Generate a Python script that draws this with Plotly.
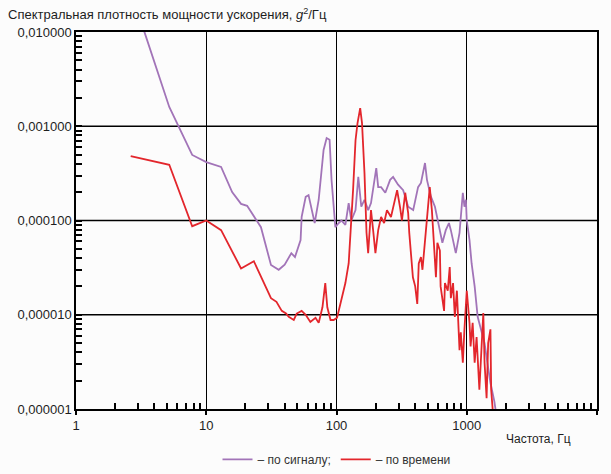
import plotly.graph_objects as go

# ---- data ----
freq_signal = [3.0, 3.36, 5.2, 7.8, 10, 13, 15.8, 18.5, 20.6, 26.3, 31.4, 36, 40, 45, 48, 53, 54, 58, 61,
               64.5, 68, 73, 79.6, 84, 88.5, 91.6, 95, 98, 104, 109, 117, 124, 130, 140, 147, 155, 164,
               175, 184, 202, 209, 220, 237, 258, 272, 297, 325, 355, 388, 423, 445, 478, 495, 530, 570,
               622, 650, 690, 730, 755, 824, 880, 933, 960, 985, 1000, 1050, 1090, 1150, 1213, 1290,
               1370, 1440, 1520, 1630, 1700]
psd_signal = [0.014, 0.0099, 0.0016, 0.000496, 0.000417, 0.00037, 0.0002, 0.00015, 0.000143, 8.5e-5,
              3.37e-5, 3.0e-5, 3.4e-5, 4.5e-5, 4.1e-5, 6.2e-5, 1.09e-4, 1.78e-4, 1.86e-4, 1.29e-4, 9.4e-5,
              1.66e-4, 5.6e-4, 7.5e-4, 7.2e-4, 2.7e-4, 1.29e-4, 8.5e-5, 9.4e-5, 1.0e-4, 9e-5, 1.53e-4,
              1e-4, 1.29e-4, 2.9e-4, 1.4e-4, 1.66e-4, 1.29e-4, 1.53e-4, 3.6e-4, 2.26e-4, 2.26e-4,
              1.97e-4, 2.7e-4, 2.9e-4, 2.4e-4, 2.1e-4, 1.4e-4, 1.29e-4, 2.26e-4, 2.5e-4, 4.07e-4,
              2.7e-4, 1.8e-4, 1.4e-4, 7.9e-5, 5.8e-5, 7.9e-5, 9.4e-5, 7.9e-5, 4.5e-5, 7.4e-5, 1.97e-4,
              1.4e-4, 1.66e-4, 1e-4, 6.2e-5, 3.5e-5, 2.0e-5, 9.5e-6, 7e-6, 5e-6, 3.1e-6, 1.9e-6,
              1.2e-6, 8e-7]

freq_time = [2.63, 5.2, 7.8, 10, 13, 18.5, 23.2, 31.4, 34.6, 38, 41, 43, 47, 49.5, 54, 58, 63, 69, 73,
             78, 82, 85, 90, 95, 101, 109, 117, 124, 130, 134, 140, 145, 152, 157, 164, 170, 175, 184,
             192, 199, 209, 220, 232, 244, 262, 281, 292, 307, 318, 337, 355, 362, 373, 386, 402, 417,
             428, 445, 457, 478, 506, 520, 540, 555, 580, 595, 622, 630, 670, 680, 715, 740, 755, 785,
             810, 840, 880, 900, 933, 960, 985, 1000, 1050, 1070, 1110, 1150, 1190, 1250, 1300, 1340,
             1370, 1420, 1460, 1520, 1540, 1600]
psd_time = [4.83e-4, 3.9e-4, 8.7e-5, 1.0e-4, 7.9e-5, 3.1e-5, 3.7e-5, 1.5e-5, 1.37e-5, 1.1e-5, 1.03e-5,
            9.5e-6, 8.8e-6, 1.03e-5, 1.1e-5, 1.0e-5, 8.4e-6, 9.3e-6, 8.2e-6, 1.2e-5, 2.17e-5, 1.2e-5,
            8.8e-6, 8.8e-6, 9.3e-6, 1.4e-5, 2.17e-5, 3.5e-5, 9.4e-5, 2.1e-4, 7.1e-4, 1.08e-3, 1.56e-3,
            1.08e-3, 3.2e-4, 7.4e-5, 4.5e-5, 1.29e-4, 7.4e-5, 4.5e-5, 7.9e-5, 1.09e-4, 9.4e-5, 1.29e-4,
            1.09e-4, 1.66e-4, 2.1e-4, 1.4e-4, 1e-4, 1.97e-4, 1.2e-4, 7.4e-5, 4.8e-5, 2.5e-5, 2.0e-5,
            1.3e-5, 3.5e-5, 4.1e-5, 3e-5, 6.2e-5, 1.8e-4, 2.26e-4, 1.29e-4, 6.2e-5, 2.5e-5, 5.8e-5,
            4.8e-5, 2.0e-5, 1.1e-5, 2.17e-5, 1.8e-5, 3.2e-5, 1.5e-5, 2.17e-5, 9.5e-6, 1.8e-5, 4.2e-6,
            6.5e-6, 3.1e-6, 7e-6, 1.3e-5, 1.8e-5, 8.2e-6, 4.6e-6, 8.2e-6, 3.1e-6, 5.8e-6, 1.6e-6,
            4.6e-6, 1.04e-5, 3.1e-6, 1.3e-6, 5e-6, 7e-6, 1.6e-6, 8e-7]

x_decades = [1, 10, 100, 1000, 10000]
x_decade_labels = ["1", "10", "100", "1000", "10000"]
y_decades = [1e-6, 1e-5, 1e-4, 1e-3, 1e-2]
y_decade_labels = ["0,000001", "0,000010", "0,000100", "0,001000", "0,010000"]
x_minor = [m * 10 ** d for d in range(0, 4) for m in range(2, 10)]
y_minor = [m * 10.0 ** d for d in range(-6, -2) for m in range(2, 10)]

series_names = ["– по сигналу;", "– по времени"]
colors = ["#a274b8", "#e3262c"]

FONT = "Liberation Sans, Arial, sans-serif"

# y axis: every tick position, labels only at the decades
y_all = sorted(y_decades + y_minor)
y_all_text = [y_decade_labels[y_decades.index(v)] if v in y_decades else "" for v in y_all]

fig = go.Figure()
fig.add_trace(go.Scatter(x=freq_signal, y=psd_signal, mode="lines", name=series_names[0],
                         line=dict(color=colors[0], width=1.8)))
fig.add_trace(go.Scatter(x=freq_time, y=psd_time, mode="lines", name=series_names[1],
                         line=dict(color=colors[1], width=1.8)))

fig.update_layout(
    width=611, height=474,
    margin=dict(l=76, r=14, t=32, b=65, autoexpand=False),
    paper_bgcolor="#fcfcfc", plot_bgcolor="#fcfcfc",
    font=dict(family=FONT, size=13, color="#1e1e1e"),
    showlegend=True,
    legend=dict(orientation="h", x=0.5, xanchor="center", y=-0.095, yanchor="top",
                font=dict(size=12, color="#333"), bgcolor="rgba(0,0,0,0)",
                itemwidth=30, tracegroupgap=0),
)

fig.update_xaxes(
    type="log", range=[0, 4],
    tickmode="array", tickvals=x_decades, ticktext=x_decade_labels,
    ticks="outside", ticklen=4, tickcolor="black", tickwidth=1.5,
    showgrid=True, gridcolor="black", gridwidth=1.4,
    showline=True, linecolor="black", linewidth=1.5, mirror=True,
    minor=dict(tickmode="array", tickvals=x_minor, ticks="inside", ticklen=6,
               tickcolor="black", tickwidth=1.5, showgrid=False),
    zeroline=False,
)
fig.update_yaxes(
    type="log", range=[-6, -2],
    tickmode="array", tickvals=y_all, ticktext=y_all_text,
    ticks="inside", ticklen=6, tickcolor="black", tickwidth=1.5,
    showgrid=False,
    showline=True, linecolor="black", linewidth=1.5, mirror=True,
    zeroline=False,
)

# horizontal major grid lines at the inner decades
for v in y_decades[1:-1]:
    fig.add_shape(type="line", xref="paper", yref="y", x0=0, x1=1, y0=v, y1=v,
                  line=dict(color="black", width=1.4), layer="below")

fig.add_annotation(text="Спектральная плотность мощности ускорения, <i>g</i><sup>2</sup>/Гц",
                   xref="paper", yref="paper", x=0, y=1, xanchor="left", yanchor="bottom",
                   xshift=-70, yshift=8, showarrow=False, font=dict(size=13, color="#1e1e1e"))
fig.add_annotation(text="Частота, Гц", xref="paper", yref="paper", x=0.954, y=0,
                   xanchor="right", yanchor="middle", yshift=-30, showarrow=False,
                   font=dict(size=12, color="#1e1e1e"))

fig.write_html("out.html")
